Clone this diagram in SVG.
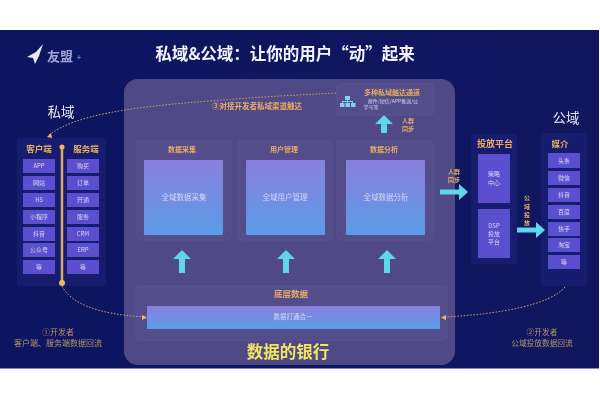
<svg xmlns="http://www.w3.org/2000/svg" width="600" height="400" viewBox="0 0 600 400">
<style>
text{font-family:"Noto Sans CJK SC","Liberation Sans",sans-serif;text-anchor:middle}
.o{fill:#e8ad62;font-weight:700}
.w{fill:#d5d5f2}
.item{fill:#5b50cf}
.panel{fill:#171e6e}
.card{fill:#544e8b;stroke:#5f5998;stroke-width:.6}
.grad{fill:url(#g)}
.flow{fill:none;stroke:#c9a06a;stroke-width:1;stroke-dasharray:1.6 1.6}
.arrow{fill:#5fd6ec}
.s{font-size:6px}
.t{font-size:7px}
.m{font-size:7.500px}
</style>
<defs>
<linearGradient id="g" x1="0" y1="0" x2="0" y2="1"><stop offset="0" stop-color="#8a7fdc"/><stop offset="1" stop-color="#5a9ce8"/></linearGradient>
<linearGradient id="bg" x1="0" y1="0" x2="1" y2="0"><stop offset="0" stop-color="#0c1560"/><stop offset="1" stop-color="#10175f"/></linearGradient>
<filter id="soft" x="-5%" y="-5%" width="110%" height="110%"><feGaussianBlur stdDeviation="0.4"/></filter>
</defs>
<rect width="600" height="400" fill="#fff"/>
<rect x="0" y="30" width="599" height="338.500" fill="url(#bg)"/>
<g filter="url(#soft)">
<g id="logo">
<path d="M27 57 L36 52 L43 44 L39 56 L35 64 L33 58Z" fill="#e8e8f4"/>
<text x="60" y="61" font-size="13" fill="#9ea5d2" font-weight="700">友盟</text>
<text x="79" y="60" font-size="8" fill="#aab0d8">+</text>
</g>
<g id="title"><text x="285" y="60" font-size="16.500" font-weight="700" fill="#f2f2f8">私域&amp;公域&#xFF1A;让你的用户“动”起来</text></g>
<g id="bank">
<rect x="124" y="79" width="331" height="286" rx="14" fill="#504a88"/>
<text x="288" y="358" font-size="16.500" font-weight="700" fill="#f2e65c">数据的银行</text>
</g>
<g id="private-label"><text x="61" y="117" font-size="13.500" fill="#e4e4f0">私域</text></g>
<g id="public-label"><text x="566" y="123" font-size="13.500" fill="#e4e4f0">公域</text></g>
<g id="private-panel">
<rect class="panel" x="17" y="138" width="89" height="148" rx="3"/>
<text class="o" x="39" y="152" font-size="8.500">客户端</text>
<text class="o" x="86" y="152" font-size="8.500">服务端</text>
<g class="w" font-size="6">
<rect class="item" x="23" y="159" width="32" height="14"/><text x="39" y="168">APP</text>
<rect class="item" x="23" y="176" width="32" height="14"/><text x="39" y="185">网站</text>
<rect class="item" x="23" y="193" width="32" height="14"/><text x="39" y="202">H5</text>
<rect class="item" x="23" y="210" width="32" height="14"/><text x="39" y="219">小程序</text>
<rect class="item" x="23" y="227" width="32" height="14"/><text x="39" y="236">抖音</text>
<rect class="item" x="23" y="243" width="32" height="14"/><text x="39" y="252">公众号</text>
<rect class="item" x="23" y="260" width="32" height="14"/><text x="39" y="269">等</text>
<rect class="item" x="67" y="159" width="32" height="14"/><text x="83" y="168">购买</text>
<rect class="item" x="67" y="176" width="32" height="14"/><text x="83" y="185">订单</text>
<rect class="item" x="67" y="193" width="32" height="14"/><text x="83" y="202">开通</text>
<rect class="item" x="67" y="210" width="32" height="14"/><text x="83" y="219">服务</text>
<rect class="item" x="67" y="227" width="32" height="14"/><text x="83" y="236">CRM</text>
<rect class="item" x="67" y="243" width="32" height="14"/><text x="83" y="252">ERP</text>
<rect class="item" x="67" y="260" width="32" height="14"/><text x="83" y="269">等</text>
</g>
</g>
<g id="card-collect">
<rect class="card" x="137" y="141" width="94" height="99" rx="4"/>
<text class="o t" x="182" y="152">数据采集</text>
<rect class="grad" x="144" y="160" width="79" height="75" rx="1"/>
<text class="w m" x="184" y="200">全域数据采集</text>
</g>
<g id="card-users">
<rect class="card" x="238" y="141" width="94" height="99" rx="4"/>
<text class="o t" x="284" y="152">用户管理</text>
<rect class="grad" x="246" y="160" width="79" height="75" rx="1"/>
<text class="w m" x="285" y="200">全域用户管理</text>
</g>
<g id="card-analysis">
<rect class="card" x="337" y="141" width="96" height="99" rx="4"/>
<text class="o t" x="384" y="152">数据分析</text>
<rect class="grad" x="346" y="160" width="79" height="75" rx="1"/>
<text class="w m" x="386" y="200">全域数据分析</text>
</g>
<g id="card-reach">
<rect class="card" x="337" y="84" width="96" height="31" rx="3"/>
<g fill="#7fd0ea"><rect x="345" y="96" width="5" height="4"/><rect x="340" y="103" width="4.500" height="4"/><rect x="345.500" y="103" width="4.500" height="4"/><rect x="351" y="103" width="4.500" height="4"/><rect x="342" y="101" width="11" height="1"/><rect x="342" y="101" width="1" height="2"/><rect x="347" y="100" width="1" height="3"/><rect x="352" y="101" width="1" height="2"/></g>
<text class="o t" x="392" y="95">多种私域触达通道</text>
<text class="w" x="393" y="103" font-size="5">邮件/短信/APP推送/公</text>
<text class="w" x="371" y="108.500" font-size="5">学号等</text>
</g>
<g id="card-base">
<rect class="card" x="136" y="286" width="311" height="54" rx="4"/>
<text class="o" x="291" y="297" font-size="8.500">底层数据</text>
<rect class="grad" x="147" y="306" width="293" height="23"/>
<text class="w" x="293" y="319" font-size="6.500">数据打通合一</text>
</g>
<g id="platform">
<rect class="panel" x="471" y="134" width="46" height="130" rx="3"/>
<text class="o" x="495" y="147" font-size="9">投放平台</text>
<rect class="item" x="478" y="154" width="32" height="49"/>
<rect class="item" x="478" y="209" width="32" height="49"/>
<g class="w s"><text x="494" y="176">策略</text><text x="494" y="185">中心</text><text x="494" y="228">DSP</text><text x="494" y="236">投放</text><text x="494" y="244">平台</text></g>
</g>
<g id="media">
<rect class="panel" x="541" y="133" width="46" height="153" rx="3"/>
<text class="o" x="560" y="147" font-size="8.500">媒介</text>
<g class="w" font-size="6">
<rect class="item" x="548" y="153" width="32" height="15"/><text x="564" y="163">头条</text>
<rect class="item" x="548" y="171" width="32" height="14"/><text x="564" y="180">微信</text>
<rect class="item" x="548" y="188" width="32" height="14"/><text x="564" y="197">抖音</text>
<rect class="item" x="548" y="205" width="32" height="14"/><text x="564" y="214">百度</text>
<rect class="item" x="548" y="222" width="32" height="14"/><text x="564" y="231">快手</text>
<rect class="item" x="548" y="238" width="32" height="14"/><text x="564" y="247">淘宝</text>
<rect class="item" x="548" y="255" width="32" height="14"/><text x="564" y="264">等</text>
</g>
</g>
<g id="connectors">
<path d="M62 146V283" stroke="#d9a868" stroke-width="2.500" fill="none"/>
<circle cx="62" cy="147" r="2.500" fill="#f0b860"/>
<circle cx="62" cy="283" r="3" fill="#f0b860"/>
<path class="flow" d="M49 135C75 115 130 107 210 101C270 96 300 95 337 93"/>
<path d="M47 137l4-4l1 5z" fill="#f0b860"/>
<path class="flow" d="M62 286C72 305 100 314 143 317"/>
<path d="M147 317.500l-5-2.500v5z" fill="#f0b860"/>
<path class="flow" d="M565 287C550 305 500 314 445 317"/>
<path d="M441 317.500l5-2.500v5z" fill="#f0b860"/>
<path class="arrow" d="M182 250l-9 9h6v14h6v-14h6z"/>
<path class="arrow" d="M286 250l-9 9h6v14h6v-14h6z"/>
<path class="arrow" d="M387 250l-9 9h6v14h6v-14h6z"/>
<path class="arrow" d="M384 115l-9 9h6v9h6v-9h6z"/>
<path class="arrow" d="M468 192l-9-8v5.500h-19v5h19v5.500z"/>
<path class="arrow" d="M545 230l-9-8v5.500h-19v5h19v5.500z"/>
</g>
<g id="labels">
<text class="o" x="257" y="109" font-size="7.500" font-weight="400">③对接开发者私域渠道触达</text>
<text class="o s" x="408" y="123">人群</text><text class="o s" x="408" y="131">同步</text>
<text class="o s" x="454" y="174">人群</text><text class="o s" x="454" y="182">同步</text>
<g class="o" font-size="6"><text x="527" y="200">公</text><text x="527" y="209">域</text><text x="527" y="217">投</text><text x="527" y="225">放</text></g>
<g fill="#b89268"><text x="58" y="335" font-size="8">①开发者</text><text x="58" y="346" font-size="8">客户端、服务端数据回流</text>
<text x="542" y="335" font-size="7.700">②开发者</text><text x="542" y="346" font-size="7.700">公域投放数据回流</text></g>
</g>
</g>
</svg>
